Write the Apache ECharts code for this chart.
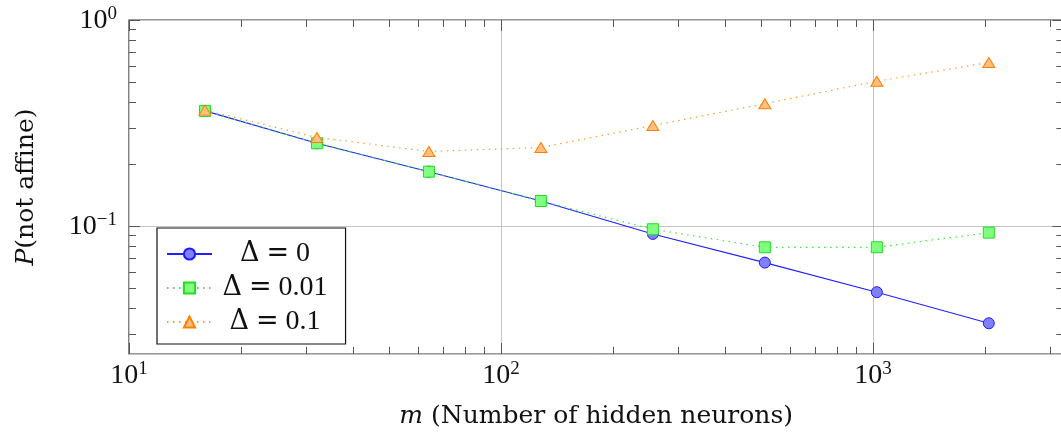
<!DOCTYPE html>
<html>
<head>
<meta charset="utf-8">
<script src="https://cdn.jsdelivr.net/npm/echarts@6/dist/echarts.min.js"></script>
<style>
  html, body { margin: 0; padding: 0; background: #ffffff; overflow: hidden; }
  #chart { width: 1072px; height: 434px; }
</style>
</head>
<body>
<div id="chart"></div>
<script>
// Hidden layer sizes m (x axis, log scale)
const neurons = [16, 32, 64, 128, 256, 512, 1024, 2048];

// P(not affine) for each perturbation size Δ
const pDelta0 = [0.362, 0.252, 0.1835, 0.1322, 0.0915, 0.0664, 0.0477, 0.0337];
const pDelta001 = [0.362, 0.252, 0.1835, 0.1322, 0.0964, 0.0788, 0.0788, 0.0928];
const pDelta01 = [0.365, 0.269, 0.230, 0.2405, 0.3074, 0.3924, 0.5045, 0.622];

const seriesNames = ['Δ = 0', 'Δ = 0.01', 'Δ = 0.1'];

// Axis ranges
const xMin = 10, xMax = 3250;
const yMin = 0.0239, yMax = 1;

// Tick positions (log axes: decades are major, 2..9 multiples are minor)
const xMajorTicks = [10, 100, 1000];
const xMinorTicks = [20, 30, 40, 50, 60, 70, 80, 90, 200, 300, 400, 500, 600, 700, 800, 900, 2000, 3000];
const yMajorTicks = [0.1, 1];
const yMinorTicks = [0.03, 0.04, 0.05, 0.06, 0.07, 0.08, 0.09, 0.2, 0.3, 0.4, 0.5, 0.6, 0.7, 0.8, 0.9];

const FONT = '"Liberation Serif", serif';
const NAME_FONT = '"DejaVu Serif", serif';
const TEXT_COLOR = '#111111';
const TICK_COLOR = '#555555';
const MAJOR_LEN = 11, MINOR_LEN = 7;

function isDecade(v) {
  const e = Math.log10(v);
  return Math.abs(e - Math.round(e)) < 1e-6;
}
function powerLabel(v) {
  if (!isDecade(v)) return '';
  const e = Math.round(Math.log10(v));
  const exp = e < 0 ? '\u2212' + (-e) : String(e);
  return '{b|10}{s|' + exp + '}';
}
const labelRich = {
  b: { fontFamily: FONT, fontSize: 28, color: TEXT_COLOR, lineHeight: 30, verticalAlign: 'bottom' },
  s: { fontFamily: FONT, fontSize: 19, color: TEXT_COLOR, lineHeight: 20, verticalAlign: 'top' }
};

// Legend text "Δ = value": symbol glyphs from DejaVu Serif, digits from Liberation Serif,
// centred inside a fixed-width text box by a measured left inset.
const LEGEND_TEXT_WIDTH = 116;
const SYM_SIZE = 27, NUM_SIZE = 28;
const measureCtx = document.createElement('canvas').getContext('2d');
function textWidth(str, size, family) {
  measureCtx.font = size + 'px ' + family;
  return measureCtx.measureText(str).width;
}
const legendRich = {
  e: { fontFamily: NAME_FONT, fontSize: SYM_SIZE, color: TEXT_COLOR, lineHeight: 30 },
  sp: { fontFamily: FONT, fontSize: NUM_SIZE, color: TEXT_COLOR, lineHeight: 30 },
  n: { fontFamily: FONT, fontSize: NUM_SIZE, color: TEXT_COLOR, lineHeight: 30 }
};
const legendInsetKey = {};
seriesNames.forEach((name, k) => {
  const value = name.split('=')[1].trim();
  const total = textWidth('Δ', SYM_SIZE, NAME_FONT) + textWidth('=', SYM_SIZE, NAME_FONT)
    + 2 * textWidth(' ', NUM_SIZE, FONT) + textWidth(value, NUM_SIZE, FONT);
  const inset = Math.max(0, (LEGEND_TEXT_WIDTH - total) / 2);
  const key = 'd' + k;
  legendRich[key] = { fontFamily: NAME_FONT, fontSize: SYM_SIZE, color: TEXT_COLOR, lineHeight: 30, padding: [0, 0, 0, inset] };
  legendInsetKey[name] = key;
});
function legendLabel(name) {
  const value = name.split('=')[1].trim();
  return '{' + legendInsetKey[name] + '|Δ}{sp| }{e|=}{sp| }{n|' + value + '}';
}

// tick items: [x, y, kind] — kind 0/1: x major/minor, 2/3: y major/minor
const tickData = [];
xMajorTicks.forEach(v => tickData.push([v, yMin, 0]));
xMinorTicks.forEach(v => tickData.push([v, yMin, 1]));
yMajorTicks.forEach(v => tickData.push([xMin, v, 2]));
yMinorTicks.forEach(v => tickData.push([xMin, v, 3]));

function renderTick(params, api) {
  const cs = params.coordSys;
  const kind = api.value(2);
  const len = (kind === 0 || kind === 2) ? MAJOR_LEN : MINOR_LEN;
  const style = { stroke: TICK_COLOR, lineWidth: 1 };
  const children = [];
  if (kind < 2) {
    const px = Math.round(api.coord([api.value(0), yMin])[0]) + 0.5;
    const bottom = cs.y + cs.height, top = cs.y;
    children.push({ type: 'line', shape: { x1: px, y1: bottom, x2: px, y2: bottom - len }, style });
    children.push({ type: 'line', shape: { x1: px, y1: top, x2: px, y2: top + len }, style });
  } else {
    const py = Math.round(api.coord([xMin, api.value(1)])[1]) + 0.5;
    const left = cs.x, right = cs.x + cs.width;
    children.push({ type: 'line', shape: { x1: left, y1: py, x2: left + len, y2: py }, style });
    children.push({ type: 'line', shape: { x1: right, y1: py, x2: right - len, y2: py }, style });
  }
  return { type: 'group', children };
}

const chart = echarts.init(document.getElementById('chart'), null, { renderer: 'canvas' });

const nameRich = {
  i: { fontFamily: NAME_FONT, fontSize: 25, fontStyle: 'italic', color: TEXT_COLOR }
};

const option = {
  animation: false,
  backgroundColor: '#ffffff',
  grid: {
    left: 129, top: 20, width: 934.4, height: 334,
    show: true, borderColor: '#333333', borderWidth: 1.2, backgroundColor: 'transparent'
  },
  xAxis: {
    type: 'log', logBase: 10, min: xMin, max: xMax,
    name: '{i|m} (Number of hidden neurons)',
    nameLocation: 'middle', nameGap: 50,
    nameTextStyle: { fontFamily: NAME_FONT, fontSize: 25, color: TEXT_COLOR, rich: nameRich },
    axisLine: { show: false },
    axisTick: { show: false },
    axisLabel: { margin: 6, formatter: powerLabel, rich: labelRich, showMinLabel: true, showMaxLabel: true },
    splitLine: { show: true, lineStyle: { color: '#c4c4c4', width: 1 } }
  },
  yAxis: {
    type: 'log', logBase: 10, min: yMin, max: yMax,
    name: '{i|P}(not affine)',
    nameLocation: 'middle', nameGap: 90,
    nameTextStyle: { fontFamily: NAME_FONT, fontSize: 25, color: TEXT_COLOR, rich: nameRich },
    axisLine: { show: false },
    axisTick: { show: false },
    axisLabel: { margin: 12, formatter: powerLabel, rich: labelRich, showMinLabel: true, showMaxLabel: true },
    splitLine: { show: true, lineStyle: { color: '#c4c4c4', width: 1 } }
  },
  legend: {
    orient: 'vertical',
    left: 157, top: 228,
    padding: [12, 18, 8, 9],
    itemGap: 6,
    itemWidth: 45, itemHeight: 14,
    backgroundColor: '#ffffff',
    borderColor: '#111111', borderWidth: 1.2,
    data: seriesNames,
    formatter: legendLabel,
    textStyle: { width: LEGEND_TEXT_WIDTH, rich: legendRich }
  },
  series: [
    {
      type: 'custom', name: 'ticks', silent: true, z: 5,
      renderItem: renderTick, data: tickData, clip: false
    },
    {
      name: seriesNames[0], type: 'line',
      data: neurons.map((m, i) => [m, pDelta0[i]]),
      symbol: 'circle', symbolSize: 11,
      lineStyle: { color: '#2020ff', width: 1.1 },
      itemStyle: { color: '#8080ff', borderColor: '#1a1aff', borderWidth: 1 },
      z: 2
    },
    {
      name: seriesNames[1], type: 'line',
      data: neurons.map((m, i) => [m, pDelta001[i]]),
      symbol: 'rect', symbolSize: 11,
      lineStyle: { color: '#33ee33', width: 1.2, type: [1.5, 4.5] },
      itemStyle: { color: '#80ff80', borderColor: '#22dd22', borderWidth: 1 },
      z: 2
    },
    {
      name: seriesNames[2], type: 'line',
      data: neurons.map((m, i) => [m, pDelta01[i]]),
      symbol: 'triangle', symbolSize: [12, 10],
      lineStyle: { color: '#ff9933', width: 1.2, type: [1.5, 4.5] },
      itemStyle: { color: '#ffbf80', borderColor: '#ff8000', borderWidth: 1 },
      z: 2
    }
  ]
};

chart.setOption(option);
</script>
</body>
</html>
